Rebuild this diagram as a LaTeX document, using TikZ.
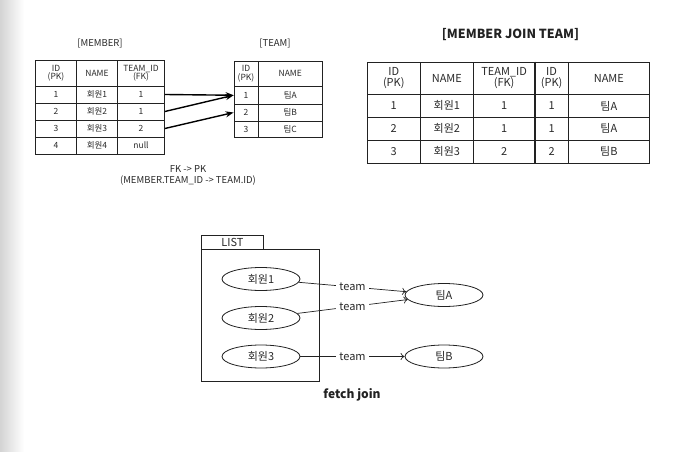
\documentclass[tikz,border=0pt]{standalone}
\usepackage{fontspec}
\setmainfont{Noto Sans CJK KR}
\usetikzlibrary{arrows.meta,shapes.geometric}
\definecolor{ink}{HTML}{222222}
\definecolor{txt}{HTML}{2a2a2a}
\newcommand\tcell[6]{\node[cellbox, minimum width={(#4)-(#2)}, minimum height={(#5)-(#3)}] (#1) at ({((#2)+(#4))/2},{((#3)+(#5))/2}) {#6};}
\begin{document}
\begin{tikzpicture}[x=1pt,y=-1pt,
  cellbox/.style={draw=ink, line width=0.8pt, inner sep=0pt, align=center, text=txt},
  small/.style={font=\fontsize{8.5}{8.5}\selectfont},
  big/.style={font=\fontsize{11}{11.5}\selectfont},
  caption/.style={font=\fontsize{9.5}{11.5}\selectfont, text=txt, align=center, inner sep=0pt},
  fkarrow/.style={line width=1.4pt, draw=black, -{Stealth[length=8pt,width=6pt]}},
  refarrow/.style={draw=ink, line width=0.7pt, -{To[length=4pt,width=7pt]}},
  oval/.style={draw=ink, line width=0.8pt, ellipse, minimum width=78pt, minimum height=23pt, inner sep=0pt, font=\fontsize{11}{12}\selectfont, text=txt},
  lbl/.style={fill=white, inner xsep=3.5pt, inner ysep=1pt, font=\fontsize{11}{12}\selectfont, text=txt},
  boxsty/.style={draw=ink, line width=0.8pt, inner sep=0pt, font=\fontsize{11}{12}\selectfont, text=txt},
]
\useasboundingbox (0,0) rectangle (689,452);
\fill[white] (0,0) rectangle (689,452);
\shade[left color=black!17, right color=white] (0,0) rectangle (24,452);

% ---------- MEMBER ----------
\node[caption] (mtitle) at (100,44) {[MEMBER]};
\begin{scope}[every node/.append style={small}]
\tcell{m11}{35.5}{60}{76.5}{86}{ID\\(PK)}
\tcell{m12}{76.5}{60}{117.5}{86}{NAME}
\tcell{m13}{117.5}{60}{164.5}{86}{TEAM\_ID\\(FK)}
\tcell{m21}{35.5}{86}{76.5}{103}{1}
\tcell{m22}{76.5}{86}{117.5}{103}{회원1}
\tcell{m23}{117.5}{86}{164.5}{103}{1}
\tcell{m31}{35.5}{103}{76.5}{120}{2}
\tcell{m32}{76.5}{103}{117.5}{120}{회원2}
\tcell{m33}{117.5}{103}{164.5}{120}{1}
\tcell{m41}{35.5}{120}{76.5}{137}{3}
\tcell{m42}{76.5}{120}{117.5}{137}{회원3}
\tcell{m43}{117.5}{120}{164.5}{137}{2}
\tcell{m51}{35.5}{137}{76.5}{154}{4}
\tcell{m52}{76.5}{137}{117.5}{154}{회원4}
\tcell{m53}{117.5}{137}{164.5}{154}{null}
% ---------- TEAM ----------
\tcell{t11}{234}{61}{258}{86.5}{ID\\(PK)}
\tcell{t12}{258}{61}{322.5}{86.5}{NAME}
\tcell{t21}{234}{86.5}{258}{104}{1}
\tcell{t22}{258}{86.5}{322.5}{104}{팀A}
\tcell{t31}{234}{104}{258}{121}{2}
\tcell{t32}{258}{104}{322.5}{121}{팀B}
\tcell{t41}{234}{121}{258}{137.5}{3}
\tcell{t42}{258}{121}{322.5}{137.5}{팀C}
\end{scope}
\node[caption] (ttitle) at (275,44) {[TEAM]};

\draw[fkarrow] (m23.east) -- (t21.west);
\draw[fkarrow] (m33.east) -- (t21.west);
\draw[fkarrow] (m43.east) -- (t31.west);

\node[caption] (fknote) at (188,175.5) {FK -> PK\\(MEMBER.TEAM\_ID -> TEAM.ID)};

% ---------- MEMBER JOIN TEAM ----------
\node[font=\bfseries\fontsize{12.5}{14}\selectfont, text=ink, inner sep=0pt] (jtitle) at (510.5,35) {[MEMBER JOIN TEAM]};
\begin{scope}[every node/.append style={big, line width=1.2pt, text=ink}]
\tcell{j11}{367}{62}{420.5}{94.2}{ID\\(PK)}
\tcell{j12}{420.5}{62}{473.2}{94.2}{NAME}
\tcell{j13}{473.2}{62}{535}{94.2}{TEAM\_ID\\(FK)}
\tcell{j14}{535}{62}{568.2}{94.2}{ID\\(PK)}
\tcell{j15}{568.2}{62}{649.5}{94.2}{NAME}
\tcell{j21}{367}{94.2}{420.5}{117.5}{1}
\tcell{j22}{420.5}{94.2}{473.2}{117.5}{회원1}
\tcell{j23}{473.2}{94.2}{535}{117.5}{1}
\tcell{j24}{535}{94.2}{568.2}{117.5}{1}
\tcell{j25}{568.2}{94.2}{649.5}{117.5}{팀A}
\tcell{j31}{367}{117.5}{420.5}{140}{2}
\tcell{j32}{420.5}{117.5}{473.2}{140}{회원2}
\tcell{j33}{473.2}{117.5}{535}{140}{1}
\tcell{j34}{535}{117.5}{568.2}{140}{1}
\tcell{j35}{568.2}{117.5}{649.5}{140}{팀A}
\tcell{j41}{367}{140}{420.5}{163}{3}
\tcell{j42}{420.5}{140}{473.2}{163}{회원3}
\tcell{j43}{473.2}{140}{535}{163}{2}
\tcell{j44}{535}{140}{568.2}{163}{2}
\tcell{j45}{568.2}{140}{649.5}{163}{팀B}
\end{scope}
\draw[draw=ink, line width=2.2pt] (j14.north west) -- (j44.south west);

% ---------- fetch join ----------
\node[boxsty, minimum width=118pt, minimum height=132.5pt] (listbox) at (260.5,315.25) {};
\node[boxsty, minimum width=62pt, minimum height=13.5pt] (listtab) at (232.5,242.25) {LIST};

\node[oval] (w1) at (261,279) {회원1};
\node[oval] (w2) at (261,318) {회원2};
\node[oval] (w3) at (261,356.5) {회원3};
\node[oval] (ta) at (444,295) {팀A};
\node[oval] (tb) at (444,356.5) {팀B};

\draw[refarrow] (w1) -- node[lbl] {team} (ta);
\draw[refarrow] (w2) -- node[lbl] {team} (ta);
\draw[refarrow] (w3) -- node[lbl] {team} (tb);

\node[font=\bfseries\fontsize{12}{14}\selectfont, text=ink, inner sep=0pt] (fj) at (352,395) {fetch join};
\end{tikzpicture}
\end{document}
